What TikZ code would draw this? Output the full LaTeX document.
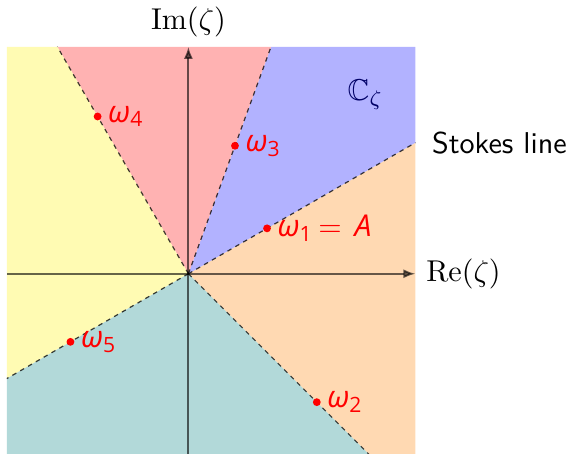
\documentclass[tikz,border=0pt]{standalone}
\usepackage{amsmath, amssymb}
\usepackage{fontspec}
\newfontfamily\lblfont{Open Sans}
\usepackage{tikz}
\usetikzlibrary{arrows.meta}

\begin{document}
\begin{tikzpicture}[x=0.53cm, y=0.53cm,
    stokes/.style={thin, opacity=0.75, dash pattern=on 1.5pt off 1.5pt},
    root/.style={red, font=\lblfont}]
  \useasboundingbox (-4.15,-3.97) rectangle (8.34,6.03);

  % Points
  \coordinate (O) at (0,0);
  \coordinate (s1) at (5,2.887);
  \coordinate (s3) at (1.820,5);
  \coordinate (s4) at (-2.887,5);
  \coordinate (s5) at (-4,-2.309);
  \coordinate (s2) at (4,-4);

  % Sectors
  \fill[orange!30] (O) -- (s2) -- (5,-4) -- (s1) -- cycle;
  \fill[blue!30] (O) -- (s1) -- (5,5) -- (s3) -- cycle;
  \fill[red!30] (O) -- (s3) -- (s4) -- cycle;
  \fill[yellow!30] (O) -- (s4) -- (-4,5) -- (s5) -- cycle;
  \fill[teal!30] (O) -- (s5) -- (-4,-4) -- (s2) -- cycle;

  % Stokes lines
  \foreach \s in {s1,s2,s3,s4,s5}
    \draw[stokes] (O) -- (\s);

  % Axes
  \draw[semithick, opacity=0.6, -{Latex[length=4pt,width=3pt]}] (-4,0) -- (5,0)
    node[right, opacity=1, text opacity=1] (re) {$\mathrm{Re}(\zeta)$};
  \draw[semithick, opacity=0.6, -{Latex[length=4pt,width=3pt]}] (0,-4) -- (0,5);
  \node (im) at (0,5.55) {$\mathrm{Im}(\zeta)$};

  % Roots
  \coordinate (w1) at (30:2);
  \coordinate (w2) at (-45:4);
  \coordinate (w3) at (70:3);
  \coordinate (w4) at (120:4);
  \coordinate (w5) at (210:3);
  \foreach \w in {w1,w2,w3,w4,w5}
    \fill[red] (\w) circle (1.3pt);

  % Labels
  \node[root, right] (l1) at (w1) {\itshape ω\textsubscript{\upshape 1}\,$=$\, A};
  \node[root, right] (l2) at (w2) {\itshape ω\textsubscript{\upshape 2}};
  \node[root, right] (l3) at (w3) {\itshape ω\textsubscript{\upshape 3}};
  \node[root, right] (l4) at (w4) {\itshape ω\textsubscript{\upshape 4}};
  \node[root, right] (l5) at (w5) {\itshape ω\textsubscript{\upshape 5}};
  \node[blue!40!black] (C) at (3.9,3.94) {$\mathbb{C}_\zeta$};
  \node[right, xshift=2pt, font=\sffamily] (stk) at (s1) {Stokes line};
\end{tikzpicture}
\end{document}
